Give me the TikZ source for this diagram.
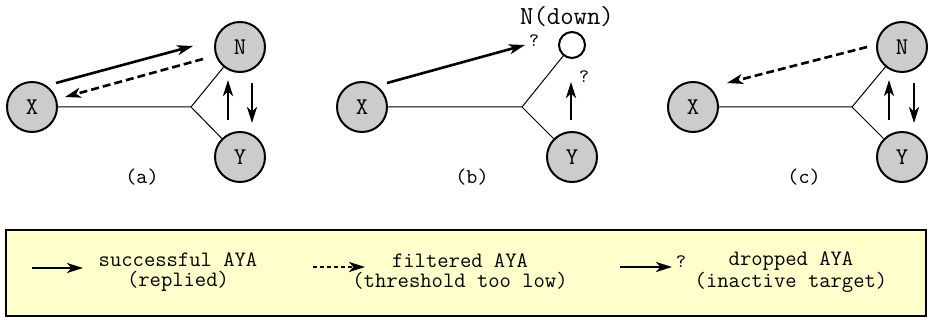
\documentclass[tikz,border=0pt]{standalone}
\usepackage{tikz}
\usetikzlibrary{arrows.meta}
\definecolor{hostgray}{gray}{0.8}
\definecolor{legendbg}{RGB}{255,255,204}
\tikzset{
    host/.style={
        draw, circle, line width=1pt, fill=hostgray,
        minimum size=25pt, inner sep=0pt,
        font=\ttfamily\fontsize{12}{12}\selectfont
    },
    deadhost/.style={
        draw, circle, line width=1pt, fill=white,
        minimum size=13pt, inner sep=0pt
    },
    link/.style={line width=0.5pt},
    connect/.style={-{Stealth[length=8pt,width=5pt,inset=2.2pt]}, line width=1.3pt},
    filtered/.style={connect, dash pattern=on 4pt off 2pt},
    caption/.style={font=\ttfamily\fontsize{10.5}{10.5}\selectfont},
    qmark/.style={inner sep=0pt, font=\ttfamily\fontsize{9.5}{9.5}\selectfont},
    legendtext/.style={align=center, font=\ttfamily\fontsize{11}{10}\selectfont}
}

\begin{document}
\begin{tikzpicture}[x=0.5pt,y=-0.5pt]
    \useasboundingbox (0,0) rectangle (930,320);

    % (a)
    \node[host] (xa) at (32,107) {X};
    \node[host] (na) at (240,47) {N};
    \node[host] (ya) at (240,157) {Y};
    \coordinate (ja) at (191,107);
    \draw[link] (xa) -- (ja) -- (na);
    \draw[link] (ja) -- (ya);
    \coordinate (a1s) at (56,83);  \coordinate (a1t) at (193,46);
    \coordinate (a2s) at (203,59); \coordinate (a2t) at (65,97);
    \coordinate (a3s) at (228,120); \coordinate (a3t) at (228,80);
    \coordinate (a4s) at (252,83); \coordinate (a4t) at (252,123);
    \draw[connect] (a1s) -- (a1t);
    \draw[filtered] (a2s) -- (a2t);
    \draw[connect] (a3s) -- (a3t);
    \draw[connect] (a4s) -- (a4t);
    \node[caption] (capa) at (142,177) {(a)};

    % (b)
    \node[host] (xb) at (362,107) {X};
    \node[deadhost] (nb) at (572,45) {};
    \node[host] (yb) at (572,157) {Y};
    \coordinate (jb) at (522,107);
    \draw[link] (xb) -- (jb) -- (nb);
    \draw[link] (jb) -- (yb);
    \node[font=\ttfamily\fontsize{13}{13}\selectfont] (downb) at (567,17) {N(down)};
    \coordinate (b1s) at (387,83);  \coordinate (b1t) at (525,45);
    \coordinate (b2s) at (571,120); \coordinate (b2t) at (571,82);
    \draw[connect] (b1s) -- (b1t);
    \draw[connect] (b2s) -- (b2t);
    \node[qmark] (qb1) at (534,41) {?};
    \node[qmark] (qb2) at (584,77) {?};
    \node[caption] (capb) at (472,177) {(b)};

    % (c)
    \node[host] (xc) at (693,107) {X};
    \node[host] (nc) at (902,47) {N};
    \node[host] (yc) at (902,157) {Y};
    \coordinate (jc) at (852,107);
    \draw[link] (xc) -- (jc) -- (nc);
    \draw[link] (jc) -- (yc);
    \coordinate (c1s) at (867,47);  \coordinate (c1t) at (727,83);
    \coordinate (c2s) at (889,120); \coordinate (c2t) at (889,80);
    \coordinate (c3s) at (914,83);  \coordinate (c3t) at (914,123);
    \draw[filtered] (c1s) -- (c1t);
    \draw[connect] (c2s) -- (c2t);
    \draw[connect] (c3s) -- (c3t);
    \node[caption] (capc) at (804,177) {(c)};

    % legend
    \node[draw, line width=1pt, fill=legendbg, minimum width=460pt,
          minimum height=43pt, inner sep=0pt] (legend) at (466,273) {};
    \coordinate (l1s) at (32,268);  \coordinate (l1t) at (83,268);
    \coordinate (l2s) at (313,267); \coordinate (l2t) at (365,267);
    \coordinate (l3s) at (620,267); \coordinate (l3t) at (672,267);
    \draw[connect] (l1s) -- (l1t);
    \draw[connect, dash pattern=on 2pt off 1.5pt] (l2s) -- (l2t);
    \draw[connect] (l3s) -- (l3t);
    \node[qmark] (ql3) at (681,262) {?};
    \node[legendtext] (okay) at (178,272) {successful AYA\\(replied)};
    \node[legendtext] (filt) at (460,272) {filtered AYA\\(threshold too low)};
    \node[legendtext] (drop) at (791,272) {dropped AYA\\(inactive target)};
\end{tikzpicture}
\end{document}
